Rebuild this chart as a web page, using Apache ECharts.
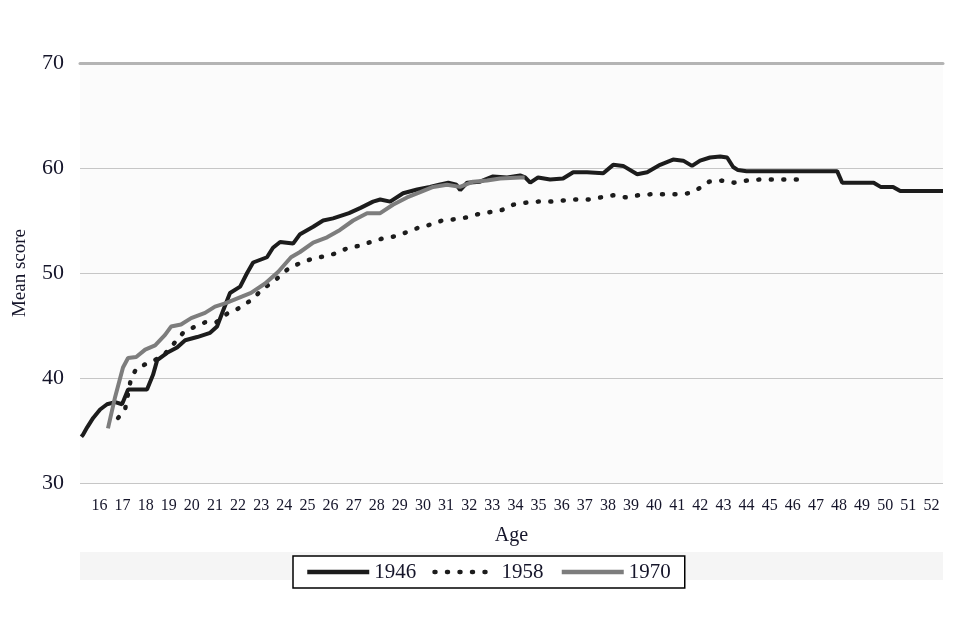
<!DOCTYPE html>
<html>
<head>
<meta charset="utf-8">
<script src="https://cdn.jsdelivr.net/npm/echarts@6/dist/echarts.min.js"></script>
<style>
html,body{margin:0;padding:0;background:#fff;}
#chart{width:960px;height:640px;}
</style>
</head>
<body>
<div id="chart"></div>
<script>
// ---- data (age, mean score) ----
var ages1946 = [15.22,15.29,15.47,15.73,16.03,16.33,16.68,16.98,17.24,17.63,18.06,18.32,18.5,18.93,19.36,19.71,20.23,20.79,21.09,21.35,21.65,22.09,22.39,22.65,23.25,23.51,23.82,24.38,24.68,25.25,25.68,26.11,26.8,27.3,27.84,28.15,28.58,29.14,29.75,30.3,30.7,31.1,31.45,31.61,31.91,32.47,33.03,33.64,34.2,34.42,34.64,34.98,35.5,36.06,36.5,37.1,37.8,38.23,38.66,39.27,39.7,40.26,40.82,41.26,41.64,41.99,42.42,42.86,43.16,43.42,43.63,44.0,47.92,48.14,49.5,49.8,50.34,50.65,52.5];
var scores1946 = [34.4,34.6,35.3,36.2,37.0,37.5,37.7,37.5,38.9,38.9,38.9,40.3,41.7,42.4,42.9,43.6,43.9,44.3,44.9,46.4,48.1,48.7,50.0,51.0,51.5,52.4,52.95,52.8,53.7,54.4,55.0,55.2,55.7,56.2,56.8,57.0,56.8,57.6,57.95,58.2,58.4,58.6,58.4,57.9,58.6,58.7,59.2,59.1,59.3,59.1,58.6,59.1,58.9,59.0,59.6,59.6,59.5,60.3,60.2,59.4,59.6,60.3,60.8,60.7,60.2,60.7,61.0,61.1,61.0,60.1,59.8,59.7,59.7,58.6,58.6,58.2,58.2,57.8,57.8];

var ages1958 = [16.81,17.11,17.37,17.63,18.1,18.75,19.27,19.62,20.14,20.57,21.05,21.57,22.0,22.56,23.08,23.6,23.95,24.29,24.77,25.25,25.77,26.28,26.76,27.28,27.8,28.27,28.8,29.31,29.79,30.31,30.83,31.3,31.9,32.38,32.9,33.42,33.9,34.46,34.98,35.54,36.06,36.6,37.15,37.7,38.23,38.79,39.31,39.87,40.39,40.95,41.52,41.99,42.38,42.94,43.46,44.0,44.55,45.1,45.67,46.23];
var scores1958 = [36.2,37.0,40.0,41.0,41.4,42.1,43.4,44.3,44.9,45.3,45.3,46.2,46.6,47.4,48.5,49.3,50.0,50.6,51.0,51.4,51.6,51.9,52.4,52.6,53.0,53.3,53.5,53.9,54.3,54.6,55.0,55.1,55.3,55.6,55.8,56.0,56.5,56.7,56.8,56.8,56.9,57.0,57.0,57.2,57.4,57.2,57.4,57.5,57.5,57.5,57.6,58.1,58.7,58.8,58.6,58.8,58.9,58.9,58.9,58.9];

var ages1970 = [16.37,16.68,17.02,17.24,17.59,17.98,18.41,18.84,19.1,19.53,19.97,20.57,21.0,21.44,22.0,22.56,23.17,23.73,24.29,24.68,25.25,25.85,26.41,26.98,27.58,28.15,28.7,29.31,29.88,30.44,31.04,31.6,32.17,32.77,33.34,34.2,34.4];
var scores1970 = [35.2,38.2,41.0,41.9,42.0,42.7,43.1,44.1,44.9,45.1,45.7,46.2,46.8,47.1,47.6,48.1,49.0,50.1,51.5,52.0,52.9,53.4,54.1,55.0,55.7,55.7,56.5,57.2,57.7,58.2,58.4,58.2,58.7,58.8,59.0,59.1,59.1];

var ageTicks = [16,17,18,19,20,21,22,23,24,25,26,27,28,29,30,31,32,33,34,35,36,37,38,39,40,41,42,43,44,45,46,47,48,49,50,51,52];
var seriesNames = ['1946','1958','1970'];

function pairs(xs, ys){ return xs.map(function(x,i){ return [x, ys[i]]; }); }

var FONT = '"Liberation Serif", "DejaVu Serif", serif';
var TXT = '#15152a';

var chart = echarts.init(document.getElementById('chart'), null, {renderer:'canvas'});
chart.setOption({
  animation: false,
  backgroundColor: '#ffffff',
  graphic: [{
    type: 'rect', z: -10,
    shape: {x: 80, y: 552, width: 863, height: 28},
    style: {fill: '#f5f5f5'}
  }],
  grid: {left: 80, right: 17, top: 63, bottom: 157, show: true, backgroundColor: '#fbfbfb', borderWidth: 0,
         containLabel: false, outerBoundsMode: 'none'},
  legend: {
    data: seriesNames,
    left: 293, top: 556,
    orient: 'horizontal',
    itemWidth: 62, itemHeight: 14, itemGap: 16,
    padding: [5, 14, 5, 12],
    borderColor: '#000', borderWidth: 1.5, borderRadius: 0,
    backgroundColor: '#ffffff',
    itemStyle: {opacity: 0, borderWidth: 0},
    lineStyle: {width: 4.5},
    textStyle: {fontFamily: FONT, fontSize: 21, color: TXT, lineHeight: 22}
  },
  xAxis: [{
    type: 'value', min: 15.16, max: 52.5,
    name: 'Age', nameLocation: 'middle', nameGap: 43,
    nameTextStyle: {fontFamily: FONT, fontSize: 20, color: TXT},
    axisLine: {show: false}, axisTick: {show: false}, splitLine: {show: false},
    axisLabel: {customValues: ageTicks, fontFamily: FONT, fontSize: 16, color: TXT, margin: 15}
  }, {
    type: 'value', min: 15.16, max: 52.5, position: 'top',
    axisLine: {show: true, onZero: false, lineStyle: {color: '#b4b4b4', width: 3}},
    axisTick: {show: false}, axisLabel: {show: false}, splitLine: {show: false}
  }],
  yAxis: {
    type: 'value', min: 30, max: 70, interval: 10,
    name: 'Mean score', nameLocation: 'middle', nameRotate: 90, nameGap: 50,
    nameTextStyle: {fontFamily: FONT, fontSize: 19, color: TXT},
    axisLine: {show: false}, axisTick: {show: false},
    axisLabel: {fontFamily: FONT, fontSize: 22, color: TXT, margin: 16},
    splitLine: {lineStyle: {color: '#c6c6c6', width: 1.2}}
  },
  series: [{
    name: '1946', type: 'line', symbol: 'none', z: 4,
    data: pairs(ages1946, scores1946),
    lineStyle: {color: '#1c1c1c', width: 4},
    itemStyle: {color: '#1c1c1c'}
  }, {
    name: '1958', type: 'line', symbol: 'none', z: 3,
    data: pairs(ages1958, scores1958),
    lineStyle: {color: '#1c1c1c', width: 4.5, type: [1, 11.5], cap: 'round'},
    itemStyle: {color: '#1c1c1c'}
  }, {
    name: '1970', type: 'line', symbol: 'none', z: 5,
    data: pairs(ages1970, scores1970),
    lineStyle: {color: '#7d7d7d', width: 4},
    itemStyle: {color: '#7d7d7d'}
  }]
});
</script>
</body>
</html>
